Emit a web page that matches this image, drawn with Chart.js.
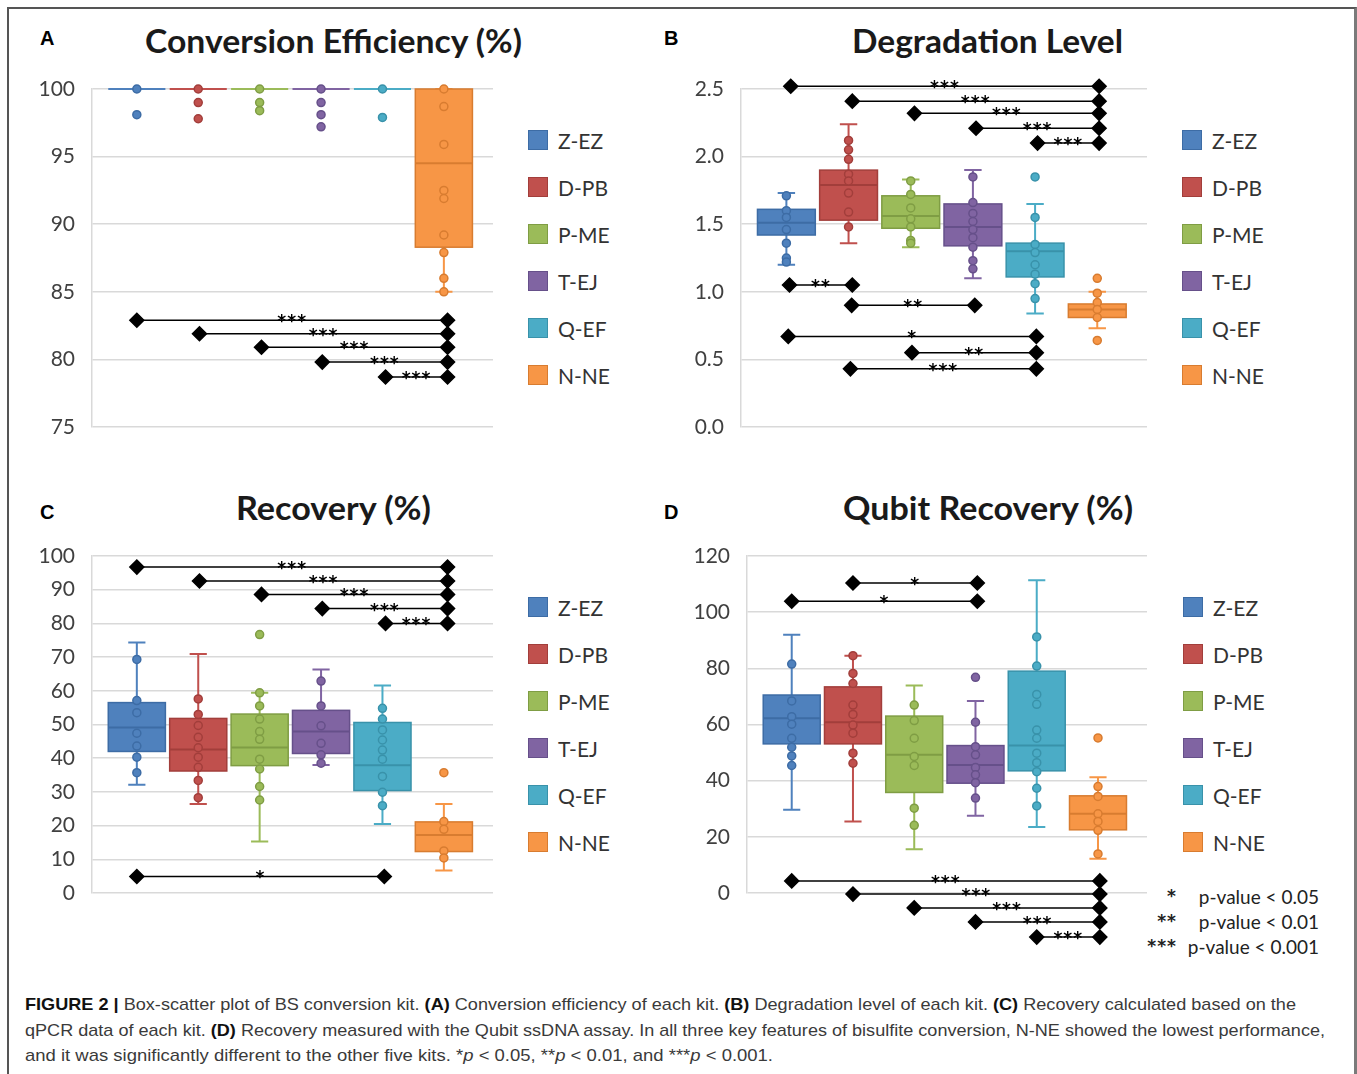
<!DOCTYPE html>
<html>
<head>
<meta charset="utf-8">
<script src="https://cdn.jsdelivr.net/npm/chart.js@4.4.0/dist/chart.umd.min.js"></script>
<style>
  html, body { margin: 0; padding: 0; background: #fff; }
  body { width: 1357px; height: 1074px; position: relative; overflow: hidden; font-family: Lato, 'Open Sans', sans-serif; }
  .frame { position: absolute; left: 7px; top: 7px; width: 1345px; height: 1100px;
           border-top: 2px solid #555; border-left: 2px solid #555; border-right: 3px solid #7a7a7a; }
  canvas { position: absolute; }
  .letter { position: absolute; font: bold 20px 'Liberation Sans', Arial, sans-serif; color: #000; line-height: 20px; }
  .title { position: absolute; font: bold 33px Lato, sans-serif; color: #1a1a1a; white-space: nowrap;
           line-height: 40px; transform-origin: left top; }
  .leg { position: absolute; display: flex; align-items: center; height: 24px; white-space: nowrap; }
  .leg .sw { width: 20px; height: 20px; border: 1px solid; margin-right: 10px; box-sizing: border-box; }
  .leg .lb { font: 21px Lato, sans-serif; color: #333; }
  .pv { position: absolute; font: 19px Lato, sans-serif; color: #222; line-height: 22px; white-space: nowrap; }
  .pv.st { font: bold 17px 'DejaVu Sans', sans-serif; letter-spacing: 1px; }
  .cap { position: absolute; left: 25px; font: 17px 'Liberation Sans Narrow', 'Liberation Sans', Arial, sans-serif;
         color: #3a3a3a; white-space: nowrap; line-height: 20px; transform-origin: left top; }
  .cap b { color: #111; }
</style>
</head>
<body>
<div class="frame"></div>
<div id="page"></div>
<canvas id="cv-a" width="480" height="380" style="left:22px;top:69px"></canvas>
<canvas id="cv-b" width="485" height="380" style="left:671px;top:69px"></canvas>
<canvas id="cv-c" width="480" height="380" style="left:22px;top:536px"></canvas>
<canvas id="cv-d" width="479" height="420" style="left:677px;top:536px"></canvas>

<div class="cap" id="cap1"><b>FIGURE 2 |</b> Box-scatter plot of BS conversion kit. <b>(A)</b> Conversion efficiency of each kit. <b>(B)</b> Degradation level of each kit. <b>(C)</b> Recovery calculated based on the</div>
<div class="cap" id="cap2">qPCR data of each kit. <b>(D)</b> Recovery measured with the Qubit ssDNA assay. In all three key features of bisulfite conversion, N-NE showed the lowest performance,</div>
<div class="cap" id="cap3">and it was significantly different to the other five kits. *<i>p</i> &lt; 0.05, **<i>p</i> &lt; 0.01, and ***<i>p</i> &lt; 0.001.</div>

<script>
// ============================================
// Figura 2 — box-scatter dos kits de conversão BS
// ============================================

const kits = ['Z-EZ', 'D-PB', 'P-ME', 'T-EJ', 'Q-EF', 'N-NE'];
const kitColors = ['#4F81BD', '#C0504D', '#9BBB59', '#8064A2', '#4BACC6', '#F79646'];
const kitEdges  = ['#3D6CA5', '#A23E3B', '#7F9D44', '#66508A', '#3992AA', '#D87C30'];

// (A) Conversion efficiency — [min, q1, mediana, q3, max]
const effTicks = [75, 80, 85, 90, 95, 100];
const effStats = [
    [100, 100, 100, 100, 100],
    [100, 100, 100, 100, 100],
    [100, 100, 100, 100, 100],
    [100, 100, 100, 100, 100],
    [100, 100, 100, 100, 100],
    [85, 88.3, 94.5, 100, 100]
];
const effPoints = [
    [100, 98.1],
    [100, 99.0, 97.8],
    [100, 99.0, 98.4],
    [100, 99.0, 98.1, 97.2],
    [100, 97.9],
    [100, 98.7, 95.9, 92.5, 91.9, 89.2, 87.9, 86.0, 85.0]
];
// [de, até, y, rótulo]
const effSig = [
    [1, 6.06, 82.9, '***'], [2.02, 6.06, 81.9, '***'], [3.03, 6.06, 80.9, '***'],
    [4.02, 6.06, 79.8, '***'], [5.05, 6.06, 78.7, '***']
];

// (B) Degradation level
const degTicks = [0, 0.5, 1, 1.5, 2, 2.5];
const degStats = [
    [1.20, 1.42, 1.51, 1.61, 1.73],
    [1.36, 1.53, 1.79, 1.90, 2.24],
    [1.33, 1.47, 1.56, 1.71, 1.83],
    [1.10, 1.34, 1.48, 1.65, 1.90],
    [0.84, 1.11, 1.30, 1.36, 1.65],
    [0.73, 0.81, 0.87, 0.91, 1.00]
];
const degPoints = [
    [1.71, 1.60, 1.55, 1.46, 1.36, 1.25, 1.22],
    [2.12, 2.05, 1.98, 1.87, 1.82, 1.73, 1.59, 1.48],
    [1.82, 1.72, 1.62, 1.54, 1.48, 1.38, 1.36],
    [1.85, 1.66, 1.58, 1.52, 1.46, 1.40, 1.33, 1.23, 1.17],
    [1.85, 1.55, 1.35, 1.29, 1.20, 1.13, 1.06, 0.95],
    [1.10, 0.99, 0.92, 0.87, 0.81, 0.64]
];
const degSig = [
    [1.07, 6.03, 2.52, '***'], [2.06, 6.03, 2.41, '***'], [3.06, 6.03, 2.32, '***'],
    [4.05, 6.03, 2.21, '***'], [5.04, 6.03, 2.10, '***'],
    [1.05, 2.06, 1.05, '**'], [2.05, 4.03, 0.90, '**'], [1.03, 5.02, 0.67, '*'],
    [3.02, 5.02, 0.55, '**'], [2.03, 5.02, 0.43, '***']
];

// (C) Recovery (qPCR)
const recTicks = [0, 10, 20, 30, 40, 50, 60, 70, 80, 90, 100];
const recStats = [
    [32.1, 42.0, 49.1, 56.5, 74.3],
    [26.4, 36.2, 42.6, 51.8, 70.9],
    [15.3, 37.8, 43.2, 53.1, 59.4],
    [38.0, 41.4, 47.9, 54.2, 66.3],
    [20.5, 30.4, 37.9, 50.6, 61.6],
    [6.7, 12.3, 17.2, 21.1, 26.4]
];
const recPoints = [
    [69.3, 57.1, 53.5, 47.4, 43.6, 40.3, 35.7],
    [57.6, 53.0, 49.7, 46.2, 43.1, 40.3, 37.3, 33.4, 28.3],
    [76.7, 59.4, 55.5, 51.6, 47.9, 45.6, 39.7, 36.8, 31.6, 27.6],
    [62.9, 55.5, 49.6, 44.4, 41.0, 38.5],
    [54.8, 51.6, 48.4, 45.4, 42.4, 39.7, 34.6, 29.9, 25.9],
    [35.7, 21.2, 18.9, 12.5, 10.4]
];
const recSig = [
    [1, 6.06, 96.7, '***'], [2.02, 6.06, 92.6, '***'], [3.03, 6.06, 88.6, '***'],
    [4.02, 6.06, 84.4, '***'], [5.05, 6.06, 80.0, '***'], [1, 5.03, 4.9, '*']
];

// (D) Qubit recovery
const qubTicks = [0, 20, 40, 60, 80, 100, 120];
const qubStats = [
    [29.6, 53.1, 62.2, 70.5, 92.0],
    [25.5, 53.1, 60.8, 73.4, 84.5],
    [15.6, 35.8, 49.2, 63.0, 73.9],
    [27.5, 39.1, 45.6, 52.5, 68.4],
    [23.5, 43.5, 52.5, 79.0, 111.4],
    [12.2, 22.5, 28.2, 34.6, 41.2]
];
const qubPoints = [
    [81.5, 68.4, 62.8, 60.1, 55.1, 51.9, 48.8, 45.4],
    [84.5, 78.2, 74.6, 66.9, 63.6, 59.8, 56.9, 49.8, 46.2],
    [66.9, 61.4, 55.1, 48.6, 45.4, 30.2, 24.1],
    [76.8, 60.8, 52.1, 49.2, 44.7, 42.1, 39.3, 33.8],
    [91.2, 80.8, 70.7, 67.2, 58.0, 55.1, 49.8, 46.4, 43.2, 37.3, 31.0],
    [55.2, 37.9, 34.4, 28.2, 25.5, 22.3, 13.9]
];
const qubSig = [
    [2.0, 4.03, 110.4, '*'], [1.0, 4.03, 103.9, '*'],
    [1.0, 6.03, 4.3, '***'], [2.0, 6.03, -0.4, '***'], [3.0, 6.03, -5.3, '***'],
    [4.0, 6.03, -10.3, '***'], [5.0, 6.03, -15.7, '***']
];

const pLegend = [['*', 'p-value < 0.05'], ['**', 'p-value < 0.01'], ['***', 'p-value < 0.001']];

const BOX_W = 0.93;
const CAP_W = 0.28;

// ------------------------------------------
// Plugin: caixas, whiskers e medianas
// ------------------------------------------
function boxPlugin(stats) {
    return {
        id: 'boxes',
        beforeDatasetsDraw(chart) {
            const { ctx, scales: { x, y } } = chart;
            ctx.save();
            stats.forEach((s, i) => {
                const [lo, q1, med, q3, hi] = s;
                const cx = x.getPixelForValue(i + 1);
                const hw = x.getPixelForValue(i + 1 + BOX_W / 2) - cx;
                const cw = x.getPixelForValue(i + 1 + CAP_W / 2) - cx;
                ctx.strokeStyle = kitColors[i];
                ctx.lineWidth = 2;
                // whiskers
                ctx.beginPath();
                ctx.moveTo(cx, y.getPixelForValue(lo));
                ctx.lineTo(cx, y.getPixelForValue(hi));
                [lo, hi].forEach(v => {
                    ctx.moveTo(cx - cw, y.getPixelForValue(v));
                    ctx.lineTo(cx + cw, y.getPixelForValue(v));
                });
                ctx.stroke();
                // caixa
                const top = y.getPixelForValue(q3);
                const bot = y.getPixelForValue(q1);
                ctx.fillStyle = kitColors[i];
                ctx.strokeStyle = kitEdges[i];
                ctx.lineWidth = 1.5;
                if (bot - top > 0.5) {
                    ctx.fillRect(cx - hw, top, hw * 2, bot - top);
                    ctx.strokeRect(cx - hw, top, hw * 2, bot - top);
                }
                // mediana
                ctx.strokeStyle = bot - top > 0.5 ? kitEdges[i] : kitColors[i];
                ctx.lineWidth = 2;
                ctx.beginPath();
                ctx.moveTo(cx - hw, y.getPixelForValue(med));
                ctx.lineTo(cx + hw, y.getPixelForValue(med));
                ctx.stroke();
            });
            ctx.restore();
        }
    };
}

// ------------------------------------------
// Plugin: losangos das pontas + asteriscos
// (os losangos saem da área do gráfico no painel D)
// ------------------------------------------
function starPlugin(sig) {
    return {
        id: 'stars',
        afterDatasetsDraw(chart) {
            const { ctx, scales: { x, y } } = chart;
            const marker = { pointStyle: 'rectRot', radius: 7, borderWidth: 1, rotation: 0 };
            ctx.save();
            ctx.fillStyle = '#000';
            ctx.strokeStyle = '#000';
            sig.forEach(([a, b, v]) => {
                const py = y.getPixelForValue(v);
                Chart.helpers.drawPoint(ctx, marker, x.getPixelForValue(a), py);
                Chart.helpers.drawPoint(ctx, marker, x.getPixelForValue(b), py);
            });
            ctx.font = 'bold 17px "DejaVu Sans"';
            ctx.textAlign = 'center';
            ctx.textBaseline = 'alphabetic';
            ctx.letterSpacing = '1px';
            sig.forEach(([a, b, v, label]) => {
                const mx = (x.getPixelForValue(a) + x.getPixelForValue(b)) / 2;
                ctx.fillText(label, mx, y.getPixelForValue(v) + 7);
            });
            ctx.restore();
        }
    };
}

// ------------------------------------------
// Ajusta o padding até a área de plotagem cair
// no lugar certo (top/bottom em px do canvas)
// ------------------------------------------
function alignArea(chart, wantTop, wantBottom) {
    for (let k = 0; k < 4; k++) {
        const a = chart.chartArea;
        const p = chart.options.layout.padding;
        const dt = a.top - wantTop;
        const db = wantBottom - a.bottom;
        if (Math.abs(dt) < 0.5 && Math.abs(db) < 0.5) break;
        chart.options.layout.padding = { left: p.left, right: p.right, top: p.top - dt, bottom: p.bottom - db };
        chart.update();
    }
}

// ------------------------------------------
// Monta um painel
// ------------------------------------------
function makePanel(id, stats, points, sig, ticks, fmt, area) {
    const datasets = [];

    sig.forEach(([a, b, v]) => {
        datasets.push({
            type: 'line',
            data: [{ x: a, y: v }, { x: b, y: v }],
            borderColor: '#000',
            borderWidth: 1.5,
            pointRadius: 0,
            clip: false
        });
    });

    points.forEach((vals, i) => {
        datasets.push({
            type: 'scatter',
            label: kits[i],
            data: vals.map(v => ({ x: i + 1, y: v })),
            backgroundColor: kitColors[i],
            borderColor: kitEdges[i],
            pointRadius: 4,
            borderWidth: 1.5,
            clip: false
        });
    });

    const canvas = document.getElementById(id);
    const chart = new Chart(canvas, {
        type: 'scatter',
        data: { datasets },
        options: {
            responsive: false,
            animation: false,
            events: [],
            layout: { padding: { top: area.top, right: canvas.width - area.right, bottom: canvas.height - area.bottom, left: 0 } },
            plugins: { legend: { display: false }, tooltip: { enabled: false } },
            scales: {
                x: { type: 'linear', min: 0.27, max: 6.8, display: false },
                y: {
                    min: ticks[0],
                    max: ticks[ticks.length - 1],
                    afterBuildTicks: s => { s.ticks = ticks.map(v => ({ value: v })); },
                    afterFit: s => { s.width = 70; },
                    // marcas invisíveis de 14px: afastam os rótulos do eixo
                    grid: { color: '#d9d9d9', lineWidth: 1.5, drawTicks: true, tickLength: 14, tickColor: 'rgba(0,0,0,0)' },
                    border: { color: '#d9d9d9', width: 1.5 },
                    ticks: {
                        padding: 3,
                        color: '#404040',
                        font: { family: 'Lato', size: 21 },
                        callback: fmt
                    }
                }
            }
        },
        plugins: [boxPlugin(stats), starPlugin(sig)]
    });
    alignArea(chart, area.top, area.bottom);
    return chart;
}

// ------------------------------------------
// Textos em HTML: letras, títulos, legendas
// ------------------------------------------
const page = document.getElementById('page');

function addEl(cls, html, left, top) {
    const el = document.createElement('div');
    el.className = cls;
    el.innerHTML = html;
    el.style.left = left + 'px';
    el.style.top = top + 'px';
    page.appendChild(el);
    return el;
}

function fitWidth(el, target) {
    const w = el.getBoundingClientRect().width;
    if (w > 0) el.style.transform = `scaleX(${target / w})`;
}

function addLegend(left, firstY) {
    kits.forEach((k, i) => {
        addEl('leg', `<span class="sw" style="background:${kitColors[i]};border-color:${kitEdges[i]}"></span><span class="lb">${k}</span>`,
            left, firstY + i * 47 - 12);
    });
}

addEl('letter', 'A', 40, 28);
addEl('letter', 'B', 664, 28);
addEl('letter', 'C', 40, 502);
addEl('letter', 'D', 664, 502);

fitWidth(addEl('title', 'Conversion Efficiency (%)', 145, 20), 377);
fitWidth(addEl('title', 'Degradation Level', 852, 20), 271);
fitWidth(addEl('title', 'Recovery (%)', 236, 487), 195);
fitWidth(addEl('title', 'Qubit Recovery (%)', 843, 487), 290);

addLegend(528, 140);
addLegend(1182, 140);
addLegend(528, 607);
addLegend(1183, 607);

pLegend.forEach(([s, t], i) => {
    const st = addEl('pv st', s, 0, 886 + i * 25);
    st.style.left = (1177 - st.getBoundingClientRect().width) + 'px';
    const tx = addEl('pv', t, 0, 886 + i * 25);
    tx.style.left = (1319 - tx.getBoundingClientRect().width) + 'px';
});

[['cap1', 995, 1271], ['cap2', 1021, 1300], ['cap3', 1046, 748]].forEach(([id, top, w]) => {
    const el = document.getElementById(id);
    el.style.top = top + 'px';
    fitWidth(el, w);
});

// ------------------------------------------
// Gráficos (área de plotagem em px do canvas)
// ------------------------------------------
makePanel('cv-a', effStats, effPoints, effSig, effTicks, v => v, { top: 20, bottom: 358, right: 471 });
makePanel('cv-b', degStats, degPoints, degSig, degTicks, v => v.toFixed(1), { top: 20, bottom: 358, right: 476 });
makePanel('cv-c', recStats, recPoints, recSig, recTicks, v => v, { top: 20, bottom: 357, right: 471 });
makePanel('cv-d', qubStats, qubPoints, qubSig, qubTicks, v => v, { top: 20, bottom: 357, right: 470 });
</script>
</body>
</html>
